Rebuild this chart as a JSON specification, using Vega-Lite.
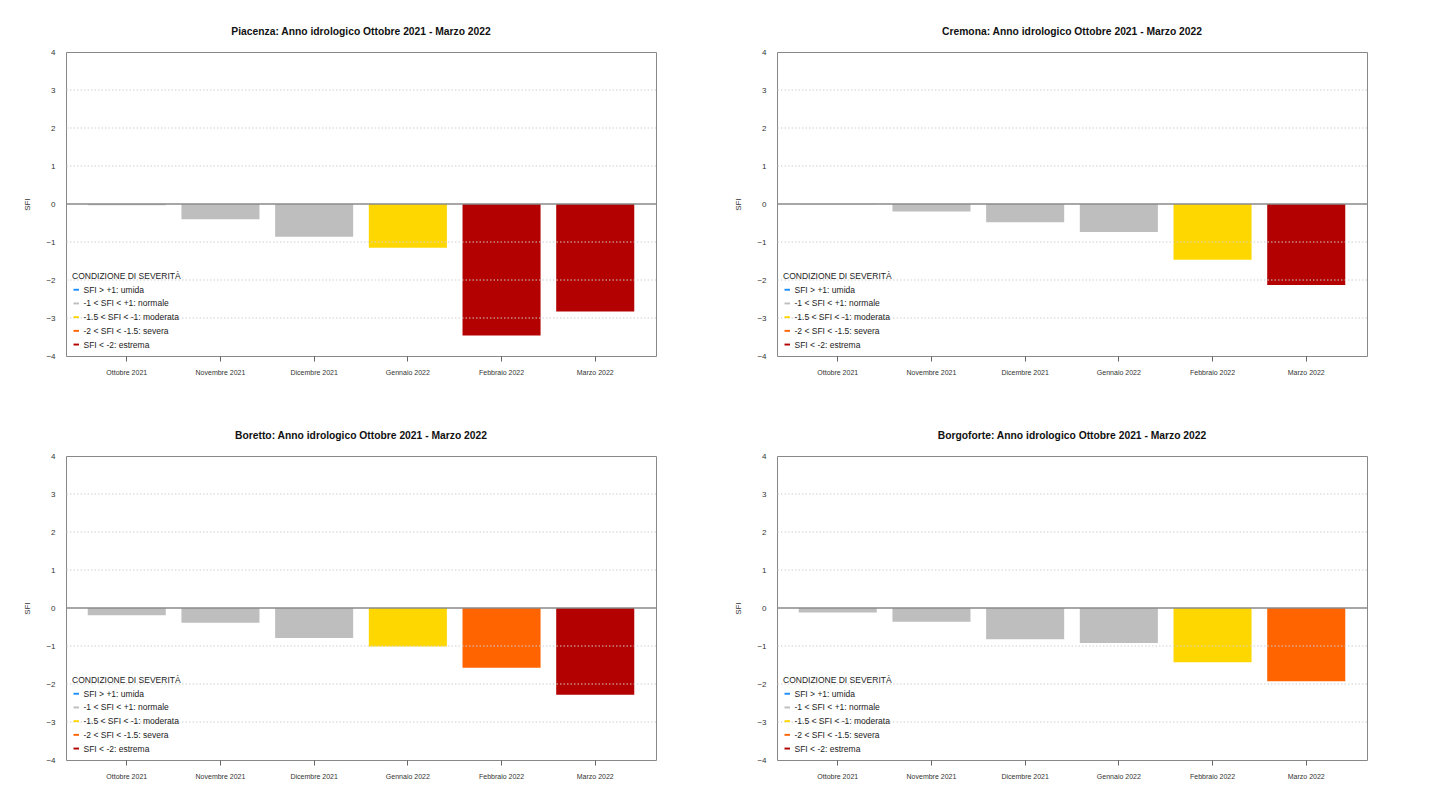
{
  "$schema": "https://vega.github.io/schema/vega-lite/v6.json",
  "background": "white",
  "padding": {"left": 23, "top": 26, "right": 5, "bottom": 5},
  "datasets": {
    "sfi": [
      {"stazione": "Piacenza", "mese": "Ottobre 2021", "sfi": -0.03, "cat": "-1 < SFI < +1: normale"},
      {"stazione": "Piacenza", "mese": "Novembre 2021", "sfi": -0.40, "cat": "-1 < SFI < +1: normale"},
      {"stazione": "Piacenza", "mese": "Dicembre 2021", "sfi": -0.86, "cat": "-1 < SFI < +1: normale"},
      {"stazione": "Piacenza", "mese": "Gennaio 2022", "sfi": -1.15, "cat": "-1.5 < SFI < -1: moderata"},
      {"stazione": "Piacenza", "mese": "Febbraio 2022", "sfi": -3.46, "cat": "SFI < -2: estrema"},
      {"stazione": "Piacenza", "mese": "Marzo 2022", "sfi": -2.83, "cat": "SFI < -2: estrema"},
      {"stazione": "Cremona", "mese": "Ottobre 2021", "sfi": -0.005, "cat": "-1 < SFI < +1: normale"},
      {"stazione": "Cremona", "mese": "Novembre 2021", "sfi": -0.20, "cat": "-1 < SFI < +1: normale"},
      {"stazione": "Cremona", "mese": "Dicembre 2021", "sfi": -0.48, "cat": "-1 < SFI < +1: normale"},
      {"stazione": "Cremona", "mese": "Gennaio 2022", "sfi": -0.74, "cat": "-1 < SFI < +1: normale"},
      {"stazione": "Cremona", "mese": "Febbraio 2022", "sfi": -1.47, "cat": "-1.5 < SFI < -1: moderata"},
      {"stazione": "Cremona", "mese": "Marzo 2022", "sfi": -2.13, "cat": "SFI < -2: estrema"},
      {"stazione": "Boretto", "mese": "Ottobre 2021", "sfi": -0.19, "cat": "-1 < SFI < +1: normale"},
      {"stazione": "Boretto", "mese": "Novembre 2021", "sfi": -0.39, "cat": "-1 < SFI < +1: normale"},
      {"stazione": "Boretto", "mese": "Dicembre 2021", "sfi": -0.79, "cat": "-1 < SFI < +1: normale"},
      {"stazione": "Boretto", "mese": "Gennaio 2022", "sfi": -1.01, "cat": "-1.5 < SFI < -1: moderata"},
      {"stazione": "Boretto", "mese": "Febbraio 2022", "sfi": -1.57, "cat": "-2 < SFI < -1.5: severa"},
      {"stazione": "Boretto", "mese": "Marzo 2022", "sfi": -2.28, "cat": "SFI < -2: estrema"},
      {"stazione": "Borgoforte", "mese": "Ottobre 2021", "sfi": -0.12, "cat": "-1 < SFI < +1: normale"},
      {"stazione": "Borgoforte", "mese": "Novembre 2021", "sfi": -0.36, "cat": "-1 < SFI < +1: normale"},
      {"stazione": "Borgoforte", "mese": "Dicembre 2021", "sfi": -0.82, "cat": "-1 < SFI < +1: normale"},
      {"stazione": "Borgoforte", "mese": "Gennaio 2022", "sfi": -0.92, "cat": "-1 < SFI < +1: normale"},
      {"stazione": "Borgoforte", "mese": "Febbraio 2022", "sfi": -1.43, "cat": "-1.5 < SFI < -1: moderata"},
      {"stazione": "Borgoforte", "mese": "Marzo 2022", "sfi": -1.93, "cat": "-2 < SFI < -1.5: severa"}
    ],
    "griglia": [{"sfi": -3}, {"sfi": -2}, {"sfi": -1}, {"sfi": 1}, {"sfi": 2}, {"sfi": 3}],
    "zero": [{"sfi": 0}]
  },
  "hconcat": [
    {
      "spacing": 54,
      "resolve": {"scale": {"color": "independent"}, "legend": {"color": "independent"}},
      "vconcat": [
        {
          "title": "Piacenza: Anno idrologico Ottobre 2021 - Marzo 2022",
          "width": 590, "height": 304,
          "encoding": {
            "y": {"field": "sfi", "type": "quantitative", "scale": {"domain": [-4, 4], "nice": false, "zero": false}, "axis": {"title": "SFI", "values": [-4, -3, -2, -1, 0, 1, 2, 3, 4], "labelOverlap": false}}
          },
          "layer": [
            {
              "data": {"name": "sfi"},
              "transform": [{"filter": "datum.stazione === 'Piacenza'"}],
              "mark": {"type": "bar"},
              "encoding": {
                "x": {"field": "mese", "type": "nominal", "sort": ["Ottobre 2021", "Novembre 2021", "Dicembre 2021", "Gennaio 2022", "Febbraio 2022", "Marzo 2022"], "scale": {"paddingInner": 0.167, "paddingOuter": 0.232}, "axis": {"title": null}},
                "color": {"field": "cat", "type": "nominal", "scale": {"domain": ["SFI > +1: umida", "-1 < SFI < +1: normale", "-1.5 < SFI < -1: moderata", "-2 < SFI < -1.5: severa", "SFI < -2: estrema"], "range": ["#1e90ff", "#bebebe", "#ffd700", "#ff6400", "#b30000"]}, "legend": {"title": "CONDIZIONE DI SEVERITÀ", "orient": "bottom-left"}}
              }
            },
            {"data": {"name": "griglia"}, "mark": {"type": "rule", "color": "#cfcfcf", "strokeWidth": 1, "strokeDash": [1.5, 2]}, "encoding": {}},
            {"data": {"name": "zero"}, "mark": {"type": "rule", "color": "#8a8a8a", "strokeWidth": 1.5}, "encoding": {}}
          ]
        },
        {
          "title": "Boretto: Anno idrologico Ottobre 2021 - Marzo 2022",
          "width": 590, "height": 304,
          "encoding": {
            "y": {"field": "sfi", "type": "quantitative", "scale": {"domain": [-4, 4], "nice": false, "zero": false}, "axis": {"title": "SFI", "values": [-4, -3, -2, -1, 0, 1, 2, 3, 4], "labelOverlap": false}}
          },
          "layer": [
            {
              "data": {"name": "sfi"},
              "transform": [{"filter": "datum.stazione === 'Boretto'"}],
              "mark": {"type": "bar"},
              "encoding": {
                "x": {"field": "mese", "type": "nominal", "sort": ["Ottobre 2021", "Novembre 2021", "Dicembre 2021", "Gennaio 2022", "Febbraio 2022", "Marzo 2022"], "scale": {"paddingInner": 0.167, "paddingOuter": 0.232}, "axis": {"title": null}},
                "color": {"field": "cat", "type": "nominal", "scale": {"domain": ["SFI > +1: umida", "-1 < SFI < +1: normale", "-1.5 < SFI < -1: moderata", "-2 < SFI < -1.5: severa", "SFI < -2: estrema"], "range": ["#1e90ff", "#bebebe", "#ffd700", "#ff6400", "#b30000"]}, "legend": {"title": "CONDIZIONE DI SEVERITÀ", "orient": "bottom-left"}}
              }
            },
            {"data": {"name": "griglia"}, "mark": {"type": "rule", "color": "#cfcfcf", "strokeWidth": 1, "strokeDash": [1.5, 2]}, "encoding": {}},
            {"data": {"name": "zero"}, "mark": {"type": "rule", "color": "#8a8a8a", "strokeWidth": 1.5}, "encoding": {}}
          ]
        }
      ]
    },
    {
      "spacing": 54,
      "resolve": {"scale": {"color": "independent"}, "legend": {"color": "independent"}},
      "vconcat": [
        {
          "title": "Cremona: Anno idrologico Ottobre 2021 - Marzo 2022",
          "width": 590, "height": 304,
          "encoding": {
            "y": {"field": "sfi", "type": "quantitative", "scale": {"domain": [-4, 4], "nice": false, "zero": false}, "axis": {"title": "SFI", "values": [-4, -3, -2, -1, 0, 1, 2, 3, 4], "labelOverlap": false}}
          },
          "layer": [
            {
              "data": {"name": "sfi"},
              "transform": [{"filter": "datum.stazione === 'Cremona'"}],
              "mark": {"type": "bar"},
              "encoding": {
                "x": {"field": "mese", "type": "nominal", "sort": ["Ottobre 2021", "Novembre 2021", "Dicembre 2021", "Gennaio 2022", "Febbraio 2022", "Marzo 2022"], "scale": {"paddingInner": 0.167, "paddingOuter": 0.232}, "axis": {"title": null}},
                "color": {"field": "cat", "type": "nominal", "scale": {"domain": ["SFI > +1: umida", "-1 < SFI < +1: normale", "-1.5 < SFI < -1: moderata", "-2 < SFI < -1.5: severa", "SFI < -2: estrema"], "range": ["#1e90ff", "#bebebe", "#ffd700", "#ff6400", "#b30000"]}, "legend": {"title": "CONDIZIONE DI SEVERITÀ", "orient": "bottom-left"}}
              }
            },
            {"data": {"name": "griglia"}, "mark": {"type": "rule", "color": "#cfcfcf", "strokeWidth": 1, "strokeDash": [1.5, 2]}, "encoding": {}},
            {"data": {"name": "zero"}, "mark": {"type": "rule", "color": "#8a8a8a", "strokeWidth": 1.5}, "encoding": {}}
          ]
        },
        {
          "title": "Borgoforte: Anno idrologico Ottobre 2021 - Marzo 2022",
          "width": 590, "height": 304,
          "encoding": {
            "y": {"field": "sfi", "type": "quantitative", "scale": {"domain": [-4, 4], "nice": false, "zero": false}, "axis": {"title": "SFI", "values": [-4, -3, -2, -1, 0, 1, 2, 3, 4], "labelOverlap": false}}
          },
          "layer": [
            {
              "data": {"name": "sfi"},
              "transform": [{"filter": "datum.stazione === 'Borgoforte'"}],
              "mark": {"type": "bar"},
              "encoding": {
                "x": {"field": "mese", "type": "nominal", "sort": ["Ottobre 2021", "Novembre 2021", "Dicembre 2021", "Gennaio 2022", "Febbraio 2022", "Marzo 2022"], "scale": {"paddingInner": 0.167, "paddingOuter": 0.232}, "axis": {"title": null}},
                "color": {"field": "cat", "type": "nominal", "scale": {"domain": ["SFI > +1: umida", "-1 < SFI < +1: normale", "-1.5 < SFI < -1: moderata", "-2 < SFI < -1.5: severa", "SFI < -2: estrema"], "range": ["#1e90ff", "#bebebe", "#ffd700", "#ff6400", "#b30000"]}, "legend": {"title": "CONDIZIONE DI SEVERITÀ", "orient": "bottom-left"}}
              }
            },
            {"data": {"name": "griglia"}, "mark": {"type": "rule", "color": "#cfcfcf", "strokeWidth": 1, "strokeDash": [1.5, 2]}, "encoding": {}},
            {"data": {"name": "zero"}, "mark": {"type": "rule", "color": "#8a8a8a", "strokeWidth": 1.5}, "encoding": {}}
          ]
        }
      ]
    }
  ],
  "spacing": 76,
  "resolve": {"scale": {"color": "independent"}, "legend": {"color": "independent"}},
  "config": {
    "font": "Liberation Sans",
    "view": {"stroke": "#888888", "strokeWidth": 1},
    "title": {"fontSize": 10.3, "fontWeight": "bold", "color": "#111111", "offset": 11, "anchor": "middle", "font": "Liberation Sans"},
    "axis": {"labelColor": "#333333", "titleColor": "#333333", "domain": false, "grid": false, "labelFont": "Liberation Sans", "titleFont": "Liberation Sans"},
    "axisX": {"labelFontSize": 7, "labelAngle": 0, "ticks": true, "tickSize": 5, "tickColor": "#666666", "labelPadding": 7, "labelColor": "#333333"},
    "axisY": {"labelFontSize": 8, "ticks": false, "labelPadding": 11, "titleFontSize": 8, "titleFontWeight": "normal", "titlePadding": 14, "labelOverlap": false, "labelColor": "#333333", "titleColor": "#333333"},
    "legend": {"titleFontSize": 8.5, "titleFontWeight": "normal", "titleColor": "#222222", "labelFontSize": 8.5, "labelColor": "#222222", "titleFont": "Liberation Sans", "labelFont": "Liberation Sans", "symbolType": "M-1,-0.35L1,-0.35L1,0.35L-1,0.35Z", "symbolSize": 30, "rowPadding": 4.7, "titlePadding": 5, "offset": 6, "padding": 0, "labelOffset": 3, "symbolStrokeWidth": 0}
  }
}
